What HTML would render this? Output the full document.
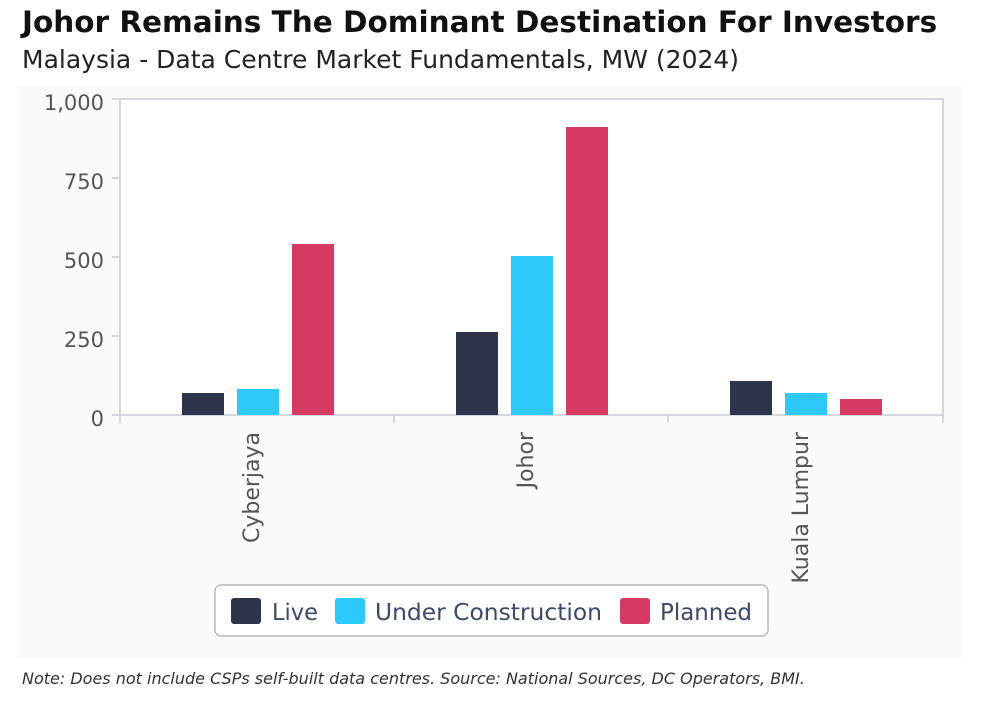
<!DOCTYPE html><html><head><style>
body{margin:0;width:1000px;height:707px;background:#fff;font-family:"DejaVu Sans","Liberation Sans",sans-serif;position:relative;overflow:hidden}
.t{position:absolute;left:22px;top:5px;font-family:"DejaVu Sans",sans-serif;font-weight:bold;font-size:29.5px;color:#111;white-space:nowrap}
.s{position:absolute;left:22px;top:45px;font-size:25px;color:#222;white-space:nowrap}
.n{position:absolute;left:22px;top:669px;font-size:16px;font-style:italic;color:#333;white-space:nowrap}
</style></head><body>
<div class="t">Johor Remains The Dominant Destination For Investors</div>
<div class="s">Malaysia - Data Centre Market Fundamentals, MW (2024)</div>
<svg width="1000" height="707" style="position:absolute;left:0;top:0">
<rect x="18" y="86" width="945" height="572" fill="#fbfbfb"/>
<rect x="120" y="99" width="823" height="316" fill="#fff" stroke="#c8cdd5" stroke-width="1.5"/>
<g stroke="#c8cdd5" stroke-width="1.5">
<line x1="112" y1="99" x2="120" y2="99"/><line x1="112" y1="178" x2="120" y2="178"/><line x1="112" y1="257" x2="120" y2="257"/><line x1="112" y1="336" x2="120" y2="336"/><line x1="112" y1="415" x2="120" y2="415"/>
<line x1="120" y1="415" x2="120" y2="423"/><line x1="394" y1="415" x2="394" y2="423"/><line x1="668" y1="415" x2="668" y2="423"/><line x1="943" y1="415" x2="943" y2="423"/>
</g>
<g font-size="21" fill="#555" text-anchor="end">
<text x="104" y="110">1,000</text><text x="104" y="189">750</text><text x="104" y="268">500</text><text x="104" y="347">250</text><text x="104" y="426">0</text>
</g>
<g fill="#2d344c"><rect x="182" y="393" width="42" height="22"/><rect x="456" y="332" width="42" height="83"/><rect x="730" y="381" width="42" height="34"/></g>
<g fill="#2ec9fb"><rect x="237" y="389" width="42" height="26"/><rect x="511" y="256" width="42" height="159"/><rect x="785" y="393" width="42" height="22"/></g>
<g fill="#d63a63"><rect x="292" y="244" width="42" height="171"/><rect x="566" y="127" width="42" height="288"/><rect x="840" y="399" width="42" height="16"/></g>
<g font-size="22" fill="#555" text-anchor="end">
<text transform="translate(259,432) rotate(-90)">Cyberjaya</text>
<text transform="translate(533,432) rotate(-90)">Johor</text>
<text transform="translate(808,432) rotate(-90)">Kuala Lumpur</text>
</g>
<rect x="215" y="585" width="553" height="51" rx="6" fill="#fff" stroke="#aaa" stroke-width="1.2"/>
<rect x="231" y="598" width="30" height="26" rx="3" fill="#2d344c"/>
<rect x="335" y="598" width="30" height="26" rx="3" fill="#2ec9fb"/>
<rect x="620" y="598" width="30" height="26" rx="3" fill="#d63a63"/>
<g font-size="23" fill="#3b4a66"><text x="272" y="620" textLength="46" lengthAdjust="spacingAndGlyphs">Live</text><text x="375" y="620" textLength="227" lengthAdjust="spacingAndGlyphs">Under Construction</text><text x="660" y="620" textLength="92" lengthAdjust="spacingAndGlyphs">Planned</text></g>
</svg>
<div class="n">Note: Does not include CSPs self-built data centres. Source: National Sources, DC Operators, BMI.</div>
</body></html>
